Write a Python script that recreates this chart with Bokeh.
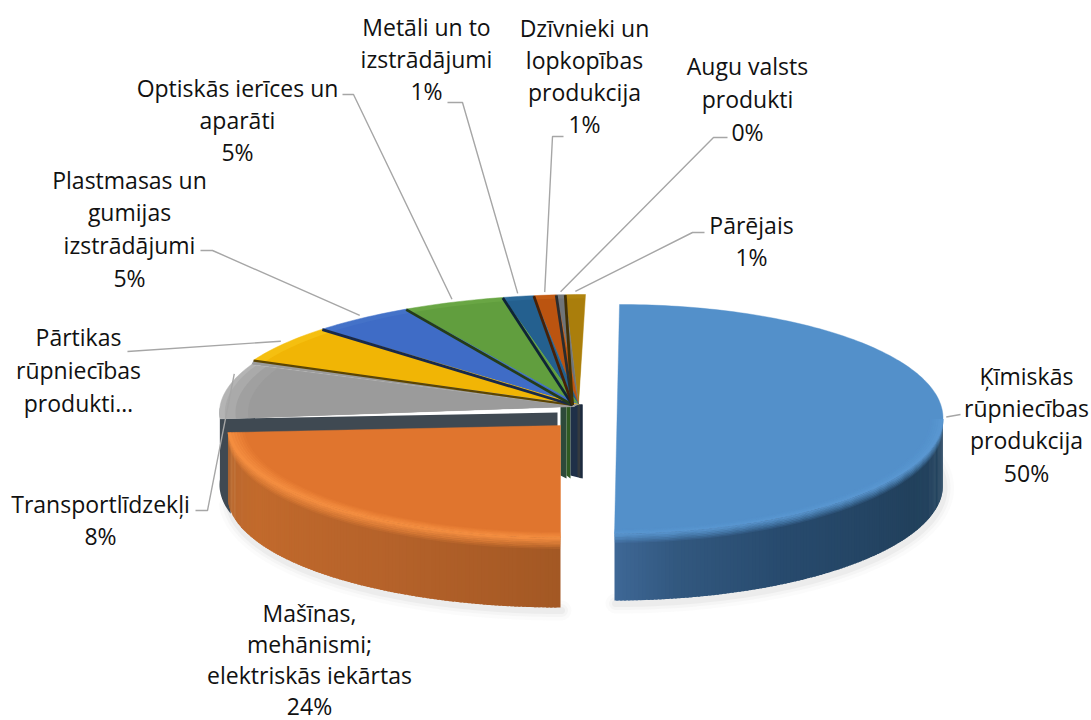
import math
from bokeh.plotting import figure
from bokeh.models import Range1d, ColumnDataSource
from bokeh.core.properties import value
from bokeh.embed import file_html
from bokeh.resources import INLINE

# ---- data (clockwise from the top) ----
categories = ["Ķīmiskās rūpniecības produkcija", "Mašīnas, mehānismi; elektriskās iekārtas",
              "Transportlīdzekļi", "Pārtikas rūpniecības produkti", "Plastmasas un gumijas izstrādājumi",
              "Optiskās ierīces un aparāti", "Metāli un to izstrādājumi",
              "Dzīvnieki un lopkopības produkcija", "Augu valsts produkti", "Pārējais"]
shares = [50.0, 24.0, 7.6, 5.4, 4.7, 4.6, 1.4, 1.0, 0.4, 0.9]
label_lines = [
    ["Ķīmiskās", "rūpniecības", "produkcija", "50%"],
    ["Mašīnas,", "mehānismi;", "elektriskās iekārtas", "24%"],
    ["Transportlīdzekļi", "8%"],
    ["Pārtikas", "rūpniecības", "produkti…"],
    ["Plastmasas un", "gumijas", "izstrādājumi", "5%"],
    ["Optiskās ierīces un", "aparāti", "5%"],
    ["Metāli un to", "izstrādājumi", "1%"],
    ["Dzīvnieki un", "lopkopības", "produkcija", "1%"],
    ["Augu valsts", "produkti", "0%"],
    ["Pārējais", "1%"],
]
top_colors = ["#5390ca", "#e0752e", "#9b9b9b", "#f1b505", "#3f6cc6", "#619e3e",
              "#24608f", "#bb5410", "#6f7478", "#aa7e0c"]
rim_colors = ["#5b98d2", "#f08a3e", "#b4b4b4", "#f5bf10", "#4472c8", "#69a644",
              "#2a6898", "#c45c14", "#777c80", "#b0840e"]

# ---- layout (screen pixels) ----
W, H = 1091, 720
OX, OY = 0, 0
# per slice: cx, cy, rx, ry, shear, depth
GROUP = (578, 404, 358, 110, 7, 72)
geom = [(616.5, 418.5, 326, 114.5, 2.5, 67), (560, 425, 333, 112, 0, 70),
        (575, 411, 356, 116, 4, 72)] + [GROUP] * 7
label_pos = [(1026, 375, 32.4), (309, 612, 31.0), (100, 503, 32.4), (78, 336, 33.0),
             (129, 179, 32.8), (237, 87, 32.4), (426, 26, 32.4), (584, 27, 32.2),
             (747, 65, 33.0), (751, 224, 32.8)]
leaders = [[(960, 414)], None, [(207, 510), (195, 510)], [(127, 351)], [(212, 250), (200, 250)],
           [(353, 94), (342, 94)], [(462, 102), (447, 102)], [(552, 136), (563, 136)],
           [(713, 137), (727, 137)], [(692, 232), (704, 232)]]
leader_theta_frac = [0.5, 0.5, 0.78, 0.5, 0.5, 0.5, 0.5, 0.5, 0.5, 0.5]


def rim(g, theta, k=1.0):
    cx, cy, rx, ry, sh, _ = g
    return cx + k * (rx * math.sin(theta) + sh * math.cos(theta)), cy - k * ry * math.cos(theta)


def arc(g, a, b, k=1.0, n=None):
    n = n or max(2, int(abs(b - a) / 0.02))
    return [rim(g, a + (b - a) * i / n, k) for i in range(n + 1)]


def lerp_color(stops, t):
    for (t0, c0), (t1, c1) in zip(stops, stops[1:]):
        if t <= t1:
            f = (t - t0) / (t1 - t0) if t1 > t0 else 0
            a = [int(c0[i:i + 2], 16) for i in (1, 3, 5)]
            b = [int(c1[i:i + 2], 16) for i in (1, 3, 5)]
            return "#%02x%02x%02x" % tuple(round(x + (y - x) * f) for x, y in zip(a, b))
    return stops[-1][1]


def darken(c, f):
    return "#%02x%02x%02x" % tuple(round(int(c[i:i + 2], 16) * f) for i in (1, 3, 5))


total = sum(shares)
cum = [0.0]
for s in shares:
    cum.append(cum[-1] + s / total * 2 * math.pi)

p = figure(width=W, height=H, x_range=Range1d(OX, OX + W), y_range=Range1d(OY + H, OY),
           output_backend="svg", toolbar_location=None, min_border=0,
           outline_line_color=None, background_fill_color="white", border_fill_color="white")
p.xaxis.visible = False
p.yaxis.visible = False
p.grid.visible = False

shapes = {"xs": [], "ys": [], "c": [], "a": [], "lw": []}


def add(pts, color, alpha=1.0, lw=0.0):
    shapes["xs"].append([q[0] for q in pts])
    shapes["ys"].append([q[1] for q in pts])
    shapes["c"].append(color)
    shapes["a"].append(alpha)
    shapes["lw"].append(lw)


def side(i, a, b, stops):
    g = geom[i]
    d = g[5]
    n = max(2, int(abs(b - a) / 0.012))
    for j in range(n):
        t0 = a + (b - a) * j / n
        t1 = a + (b - a) * (j + 1.6) / n if j < n - 1 else b
        q0, q1 = rim(g, t0), rim(g, t1)
        add([q0, q1, (q1[0], q1[1] + d), (q0[0], q0[1] + d)], lerp_color(stops, (j + 0.5) / n))


def rim_glow(i, a, b, color, inner, outer, peak):
    """Rim highlight: fades in on the face, fades out down the side."""
    g = geom[i]
    steps = 6
    for s in range(steps):
        k0 = 1 - inner * (steps - s) / steps
        k1 = 1 - inner * (steps - s - 1) / steps + 0.002
        up, lo = arc(g, a, b, k0), arc(g, a, b, k1)
        add(up + lo[::-1], color, peak * (s + 1) / steps)
    base = arc(g, a, b)
    for s in range(steps):
        d0 = outer * s / steps
        d1 = outer * (s + 1) / steps + 0.4
        up = [(x, y + d0) for x, y in base]
        lo = [(x, y + d1) for x, y in base]
        add(up + lo[::-1], color, peak * (steps - s) / steps)


# ---- soft shadows ----
shadow = {"xs": [], "ys": [], "w": [], "al": []}
for i, a, b in [(0, math.pi * 0.42, math.pi), (1, math.pi, cum[2])]:
    g = geom[i]
    top = arc(g, a, b)
    low = [(x + 1, y + g[5] + 3) for x, y in top]
    for w, al in [(20, 0.035), (13, 0.05), (7, 0.07)]:
        shadow["xs"].append([q[0] for q in low])
        shadow["ys"].append([q[1] for q in low])
        shadow["w"].append(w)
        shadow["al"].append(al)
p.multi_line("xs", "ys", source=ColumnDataSource(shadow), line_color="#808080",
             line_width="w", line_alpha="al", line_cap="round")

# ---- central column of the group's inner walls ----
gx, gy = GROUP[0], GROUP[1]
gd = GROUP[5]
for dx0, dx1, col in [(-18, -12, "#2d4a3a"), (-12, -8, "#2f5a22"), (-8, 4, "#1f3048"),
                      (-1, 2, "#343a3f"), (2, 4, "#1c2a3e")]:
    add([(gx + dx0, gy), (gx + dx1, gy), (gx + dx1, gy + gd + 2), (gx + dx0, gy + gd - 1)], col)

# ---- transport slice side, seen behind the orange slice ----
g = geom[2]
start = cum[2]
wall = arc(g, start - 0.2, start + 0.1)
add(wall + [(x, y + g[5]) for x, y in reversed(wall)], "#3f4952")
q = rim(g, start)
add([(g[0] - 18, g[1] + 1), q, (q[0], q[1] + 24), (g[0] - 18, g[1] + 24)], "#3f4952")

# ---- group slices, back to front ----
for i in range(9, 1, -1):
    g = geom[i]
    a, b = cum[i], cum[i + 1]
    apex = (g[0], g[1]) if i != 2 else (GROUP[0] - 4, GROUP[1] + 2)
    if i == 2:
        # closes the small gap to the neighbouring slice's edge
        add([(GROUP[0], GROUP[1]), rim(GROUP, b), rim(g, b), apex], top_colors[2])
    add([apex] + arc(g, a, b), rim_colors[i], 1, 0.5)
    if i == 2:
        add([apex] + arc(g, a, b, 0.985), "#aaaaaa", 1, 0)
        add([apex] + arc(g, a, b, 0.955), "#a0a0a0", 1, 0)
        add([apex] + arc(g, a, b, 0.92), top_colors[i], 1, 0)
    else:
        add([apex] + arc(g, a + 0.002, b - 0.002, 0.965), top_colors[i], 1, 0)

# dark walls between neighbouring slices
walls = {"xs": [], "ys": [], "c": [], "w": []}
for i in range(3, 10):
    g = geom[i]
    q = rim(g, cum[i])
    walls["xs"].append([g[0] - 6, q[0]])
    walls["ys"].append([g[1] + 0.5, q[1] + 0.5])
    walls["c"].append(darken(top_colors[i], 0.38))
    walls["w"].append(2.8 if i > 3 else 2.2)

# ---- orange slice ----
g1 = geom[1]
add([(g1[0], g1[1])] + arc(g1, math.pi, cum[2]), "#e0752e", 1, 0.4)
side(1, math.pi, cum[2] + 0.01, [(0, "#a35824"), (0.35, "#b5622a"), (0.75, "#c26a2c"), (1, "#b8682e")])
rim_glow(1, math.pi, cum[2], "#f48e40", 0.05, 11, 0.95)

# ---- blue slice ----
g0 = geom[0]
add(arc(g0, 0, math.pi), "#5390ca", 1, 0.4)
side(0, math.pi * 0.5, math.pi, [(0, "#24445f"), (0.3, "#22415d"), (0.65, "#274a6d"), (0.88, "#32587f"), (1, "#3e6896")])
rim_glow(0, math.pi * 0.5, math.pi, "#5a98d2", 0.04, 9, 0.85)

p.patches("xs", "ys", source=ColumnDataSource(shapes), fill_color="c", fill_alpha="a",
          line_color="c", line_alpha="a", line_width="lw")
p.multi_line("xs", "ys", source=ColumnDataSource(walls), line_color="c", line_width="w")

# ---- leader lines ----
lx, ly = [], []
for i, tail in enumerate(leaders):
    if tail is None:
        continue
    g = geom[i]
    th = cum[i] + (cum[i + 1] - cum[i]) * leader_theta_frac[i]
    q = rim(g, th, 1.01)
    lx.append([q[0]] + [t[0] for t in tail])
    ly.append([q[1] - 2] + [t[1] for t in tail])
p.multi_line(lx, ly, line_color="#a6a6a6", line_width=1.4)

# ---- labels ----
for lines, (x, y, lh) in zip(label_lines, label_pos):
    ys = [y + k * lh for k in range(len(lines))]
    p.text([x] * len(lines), ys, text=lines, text_font=value("Open Sans"), text_font_size="23px",
           text_color="#111111", text_align="center", text_baseline="middle")

open("out.html", "w").write(file_html(p, INLINE))
